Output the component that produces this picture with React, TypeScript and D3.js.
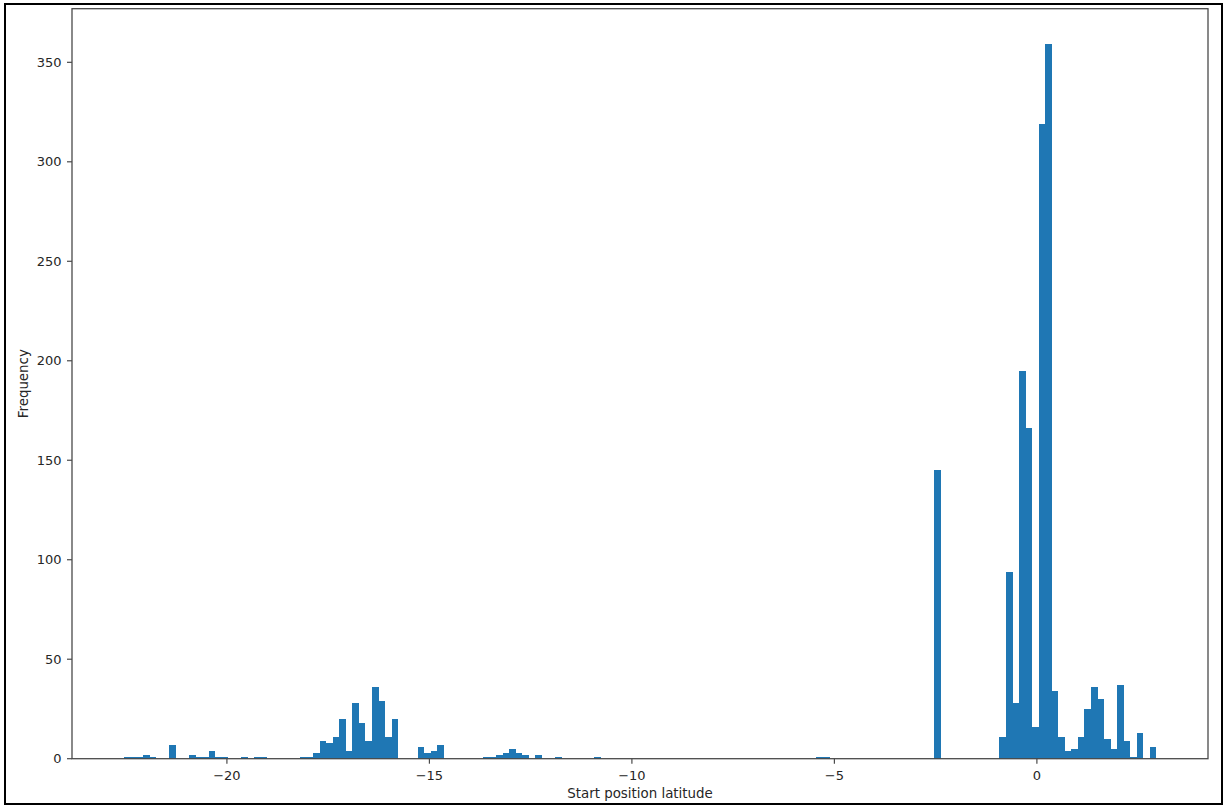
import React from "react";
import * as d3 from "d3";

// Histogram of start position latitude (158 equal-width bins between dataMin and dataMax)
const dataMin = -22.55;
const dataMax = 2.95;
const binCount = 158;
const counts = [
  1, 1, 1, 2, 1, 0, 0, 7, 0, 0,
  2, 1, 1, 4, 1, 1, 0, 0, 1, 0,
  1, 1, 0, 0, 0, 0, 0, 1, 1, 3,
  9, 8, 11, 20, 4, 28, 18, 9, 36, 29,
  11, 20, 0, 0, 0, 6, 3, 4, 7, 0,
  0, 0, 0, 0, 0, 1, 1, 2, 3, 5,
  3, 2, 0, 2, 0, 0, 1, 0, 0, 0,
  0, 0, 1, 0, 0, 0, 0, 0, 0, 0,
  0, 0, 0, 0, 0, 0, 0, 0, 0, 0,
  0, 0, 0, 0, 0, 0, 0, 0, 0, 0,
  0, 0, 0, 0, 0, 0, 1, 1, 0, 0,
  0, 0, 0, 0, 0, 0, 0, 0, 0, 0,
  0, 0, 0, 0, 145, 0, 0, 0, 0, 0,
  0, 0, 0, 0, 11, 94, 28, 195, 166, 16,
  319, 359, 34, 11, 4, 5, 11, 25, 36, 30,
  10, 5, 37, 9, 1, 13, 0, 6,
];
const xTicks = [-20, -15, -10, -5, 0];
const yTicks = [0, 50, 100, 150, 200, 250, 300, 350];
const xLabel = "Start position latitude";
const yLabel = "Frequency";

const W = 1225;
const H = 805;
const plot = { left: 72, right: 1208, top: 8.7, bottom: 758.7 };
const font = "'DejaVu Sans', sans-serif";
const textColor = "#262626";
const spineColor = "#4a4a4a";

const fmt = (v: number) => (v < 0 ? "\u2212" + Math.abs(v) : String(v));

export default function App() {
  const binW = (dataMax - dataMin) / binCount;
  const pad = 0.05 * (dataMax - dataMin);
  const x = d3
    .scaleLinear()
    .domain([dataMin - pad, dataMax + pad])
    .range([plot.left, plot.right]);
  const maxC = d3.max(counts) as number;
  const y = d3
    .scaleLinear()
    .domain([0, maxC * 1.05])
    .range([plot.bottom, plot.top]);

  const bins = counts.map((c, i) => ({
    x0: dataMin + i * binW,
    x1: dataMin + (i + 1) * binW,
    c,
  }));

  return (
    <svg
      width={W}
      height={H}
      style={{ position: "absolute", left: 0, top: 0, background: "#fff" }}
    >
      <rect x={0} y={0} width={W} height={H} fill="#fff" />
      {/* bars */}
      <g>
        {bins
          .filter((b) => b.c > 0)
          .map((b, i) => (
            <rect
              key={i}
              x={x(b.x0)}
              y={y(b.c)}
              width={x(b.x1) - x(b.x0)}
              height={y(0) - y(b.c)}
              fill="#1f77b4"
              shapeRendering="crispEdges"
            />
          ))}
      </g>
      {/* spines */}
      <rect
        x={plot.left}
        y={plot.top}
        width={plot.right - plot.left}
        height={plot.bottom - plot.top}
        fill="none"
        stroke={spineColor}
        strokeWidth={1.3}
      />
      {/* x ticks */}
      <g>
        {xTicks.map((t) => (
          <g key={t}>
            <line
              x1={x(t)}
              x2={x(t)}
              y1={plot.bottom}
              y2={plot.bottom + 5}
              stroke={spineColor}
              strokeWidth={1.2}
            />
            <text
              x={x(t)}
              y={780}
              textAnchor="middle"
              fontFamily={font}
              fontSize={13}
              fill={textColor}
            >
              {fmt(t)}
            </text>
          </g>
        ))}
      </g>
      {/* y ticks */}
      <g>
        {yTicks.map((t) => (
          <g key={t}>
            <line
              x1={plot.left - 5}
              x2={plot.left}
              y1={y(t)}
              y2={y(t)}
              stroke={spineColor}
              strokeWidth={1.2}
            />
            <text
              x={plot.left - 10.5}
              y={y(t)}
              dy="0.36em"
              textAnchor="end"
              fontFamily={font}
              fontSize={13}
              fill={textColor}
            >
              {fmt(t)}
            </text>
          </g>
        ))}
      </g>
      {/* axis labels */}
      <text
        x={(plot.left + plot.right) / 2}
        y={797.5}
        textAnchor="middle"
        fontFamily={font}
        fontSize={13.4}
        fill={textColor}
      >
        {xLabel}
      </text>
      <text
        transform={`translate(27.5, ${(plot.top + plot.bottom) / 2}) rotate(-90)`}
        textAnchor="middle"
        fontFamily={font}
        fontSize={13.4}
        fill={textColor}
      >
        {yLabel}
      </text>
      {/* outer frame */}
      <rect
        x={5}
        y={4}
        width={1217}
        height={800}
        fill="none"
        stroke="#000"
        strokeWidth={2}
      />
    </svg>
  );
}
